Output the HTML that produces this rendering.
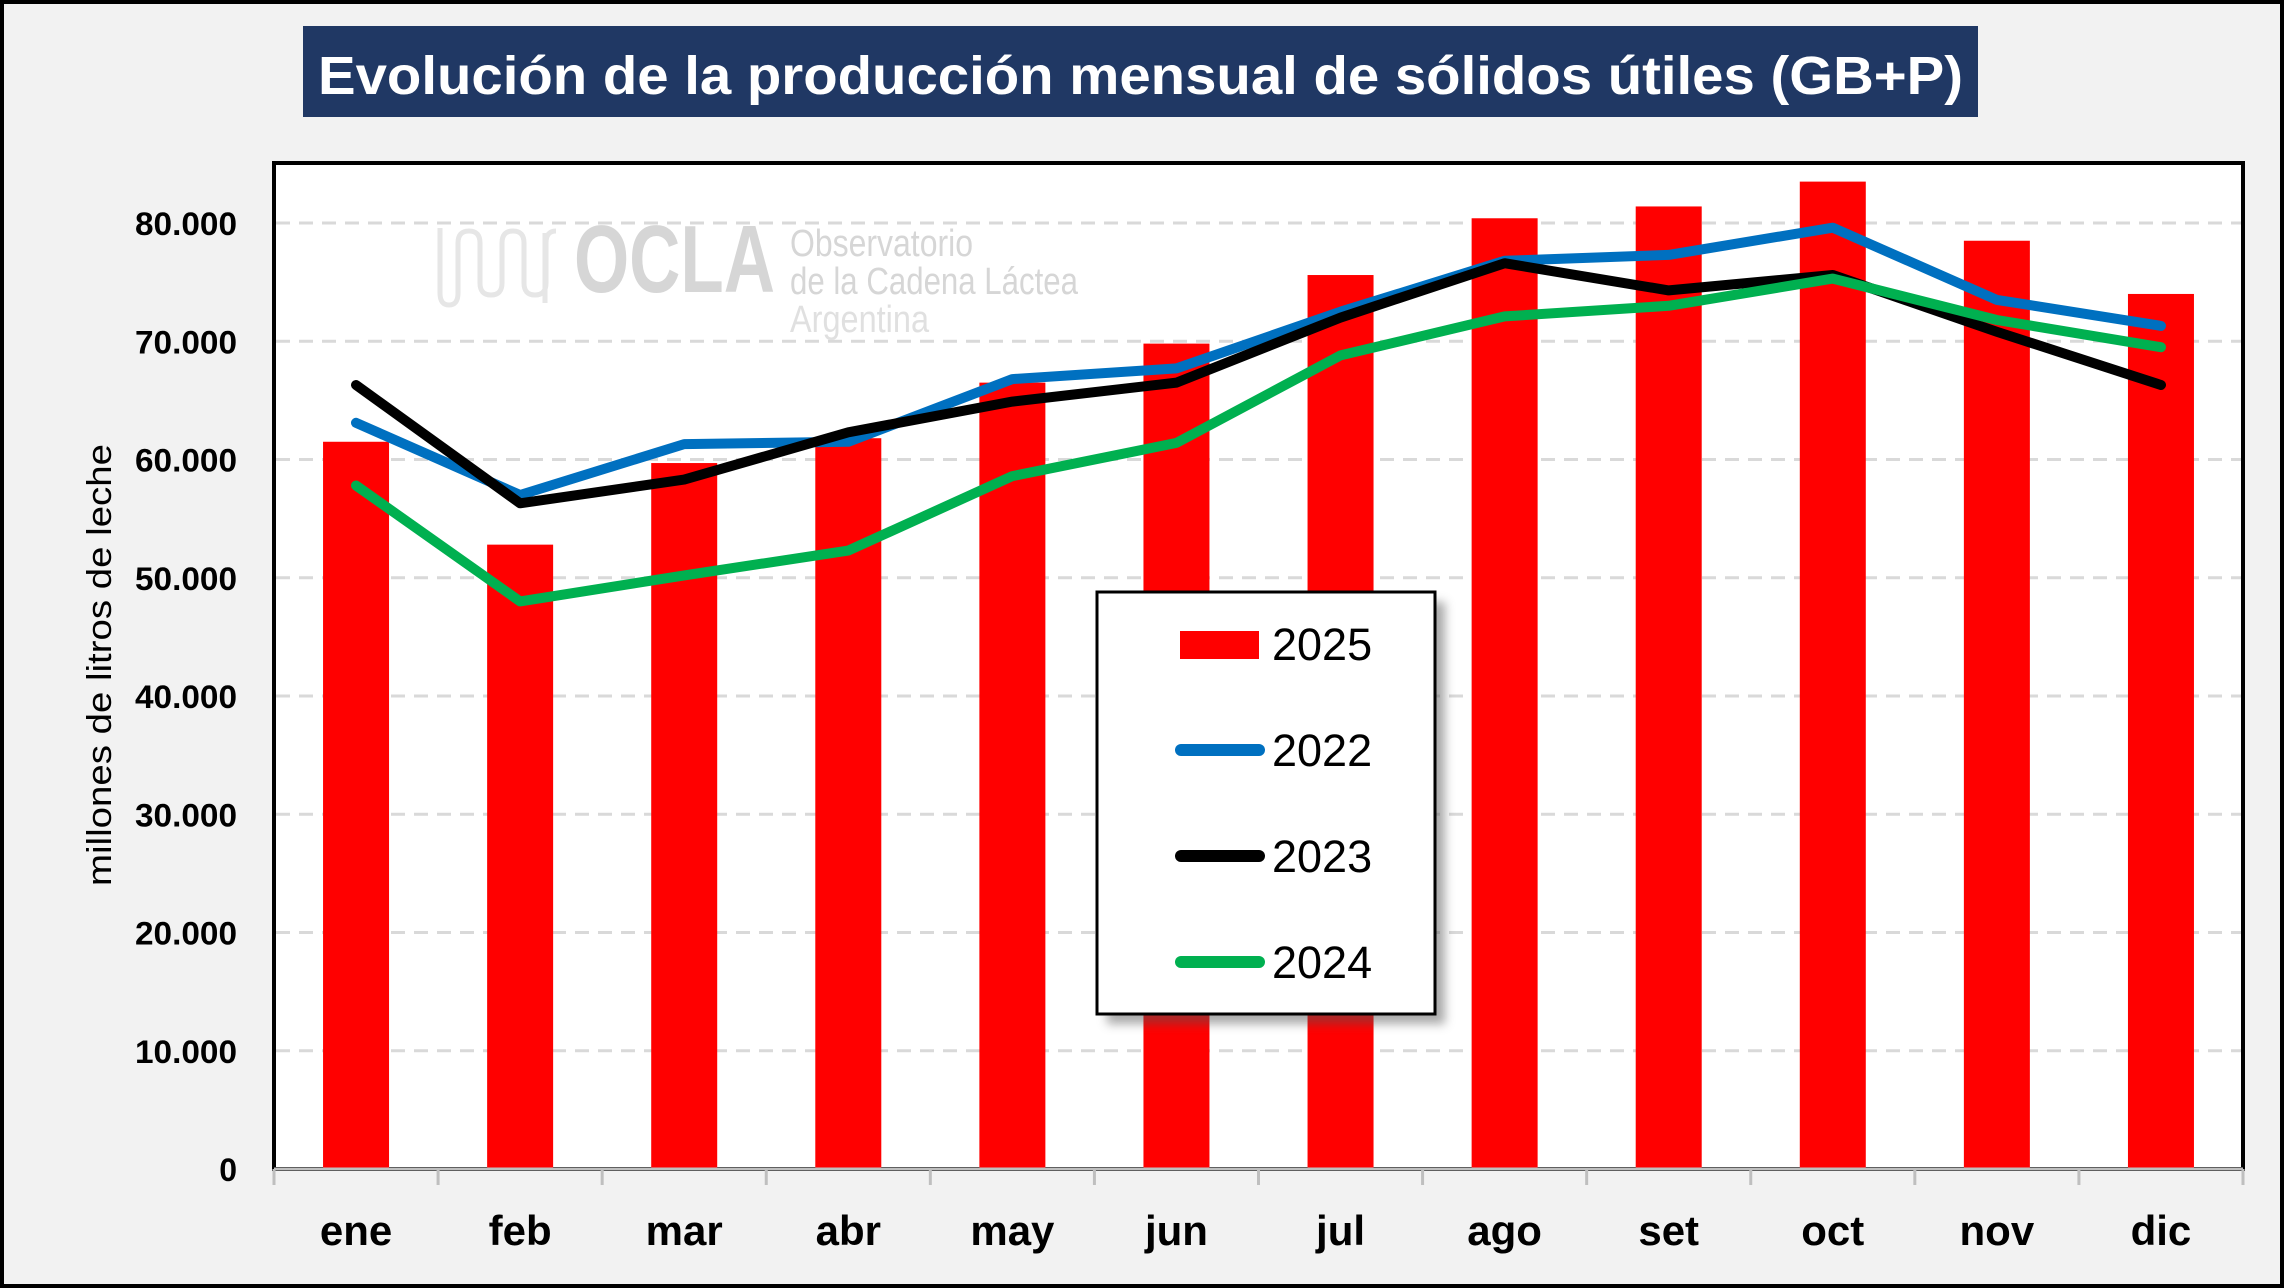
<!DOCTYPE html>
<html><head><meta charset="utf-8"><style>
html,body{margin:0;padding:0;background:#f2f2f2;}
svg{display:block;}
text{font-family:"Liberation Sans",sans-serif;}
</style></head><body>
<svg id="chart" width="2284" height="1288" viewBox="0 0 2284 1288">
<defs><filter id="blur" x="-20%" y="-20%" width="140%" height="140%"><feGaussianBlur stdDeviation="5"/></filter></defs>
<rect x="2" y="2" width="2280" height="1284" fill="#f2f2f2" stroke="#000" stroke-width="4"/>
<rect x="303" y="26" width="1675" height="91" fill="#203864"/>
<text x="318" y="94" fill="#fff" font-size="54" font-weight="bold" textLength="1645" lengthAdjust="spacingAndGlyphs">Evolución de la producción mensual de sólidos útiles (GB+P)</text>
<rect x="274" y="163" width="1969" height="1006" fill="#fff" stroke="#000" stroke-width="4"/>
<g id="grid"></g>
<g fill="#d6d6d6">
<path d="M440 228 v65 q0 12 9 12 q9 0 9 -12 v-50 q0 -12 11 -12 q11 0 11 12 v40 q0 12 11 12 q11 0 11 -12 v-40 q0 -12 11 -12 q11 0 11 12 v40 q0 12 11 12 q11 0 11 -12 v-40 q0 -12 10 -12 M545 233 v70" fill="none" stroke="#e6e6e6" stroke-width="5"/>
<text x="574" y="292" font-size="96" font-weight="bold" textLength="201" lengthAdjust="spacingAndGlyphs">OCLA</text>
<text x="790" y="256" font-size="38" textLength="183" lengthAdjust="spacingAndGlyphs">Observatorio</text>
<text x="790" y="294" font-size="38" textLength="288" lengthAdjust="spacingAndGlyphs">de la Cadena Láctea</text>
<text x="790" y="332" font-size="38" fill="#e0e0e0" textLength="139" lengthAdjust="spacingAndGlyphs">Argentina</text>
</g>
<g id="bars"></g>
<g id="lines"></g>
<g id="axes"></g>
<text transform="translate(111,665) rotate(-90)" text-anchor="middle" font-size="34" fill="#000" textLength="442" lengthAdjust="spacingAndGlyphs">millones de litros de leche</text>
<g>
<rect x="1107" y="602" width="338" height="422" fill="#555" opacity="0.5" filter="url(#blur)"/>
<rect x="1097" y="592" width="338" height="422" fill="#fff" stroke="#000" stroke-width="3"/>
<g><rect x="1180" y="631" width="79" height="28" fill="#ff0000"/><text x="1272" y="660" font-size="45">2025</text></g>
<g><line x1="1181" y1="750" x2="1259" y2="750" stroke="#0070c0" stroke-width="12" stroke-linecap="round"/><text x="1272" y="766" font-size="45">2022</text></g>
<g><line x1="1181" y1="856" x2="1259" y2="856" stroke="#000" stroke-width="12" stroke-linecap="round"/><text x="1272" y="872" font-size="45">2023</text></g>
<g><line x1="1181" y1="962" x2="1259" y2="962" stroke="#00b050" stroke-width="12" stroke-linecap="round"/><text x="1272" y="978" font-size="45">2024</text></g>
</g>
</svg>
<script>
const categories = ["ene","feb","mar","abr","may","jun","jul","ago","set","oct","nov","dic"];
const values2025 = [61500,52800,59700,61800,66500,69800,75600,80400,81400,83500,78500,74000];
const values2022 = [63100,57000,61300,61500,66800,67700,72500,76800,77300,79600,73500,71300];
const values2023 = [66300,56300,58300,62300,64900,66500,72000,76600,74300,75600,70800,66300];
const values2024 = [57800,48000,50200,52300,58600,61400,68800,72100,73000,75300,71800,69500];
const yTicks = [0,10000,20000,30000,40000,50000,60000,70000,80000];
const yTickLabels = ["0","10.000","20.000","30.000","40.000","50.000","60.000","70.000","80.000"];

const NS = "http://www.w3.org/2000/svg";
const X0 = 274, X1 = 2243, Y0 = 1169, PER = 118.25/10000;
const band = (X1 - X0) / categories.length;
function xScale(i){ return X0 + band*(i+0.5); }
function yScale(v){ return Y0 - v*PER; }
function mk(tag, attrs, parent){ const e=document.createElementNS(NS,tag); for(const k in attrs) e.setAttribute(k,attrs[k]); parent.appendChild(e); return e; }

const grid = document.getElementById('grid');
const axes = document.getElementById('axes');
yTicks.forEach((t,i)=>{
  if(t>0){
    const g = mk('line',{x1:X0+2,x2:X1-2,y1:yScale(t),y2:yScale(t),stroke:'#d9d9d9','stroke-width':3,'stroke-dasharray':'14 9'},grid);
    
    
  }
  const tl = mk('text',{x:237,y:yScale(t)+12,'text-anchor':'end','font-size':32,'font-weight':'bold',fill:'#000'},axes);
  if(t>0){ tl.setAttribute('textLength',102); tl.setAttribute('lengthAdjust','spacingAndGlyphs'); }
  tl.textContent = yTickLabels[i];
  
  
});
const ax = mk('line',{x1:X0,x2:X1,y1:Y0,y2:Y0,stroke:'#bfbfbf','stroke-width':3},axes);


for(let i=0;i<=categories.length;i++){
  const tk = mk('line',{x1:X0+band*i,x2:X0+band*i,y1:Y0,y2:Y0+16,stroke:'#bfbfbf','stroke-width':3},axes);
  
  
}
categories.forEach((c,i)=>{
  const t = mk('text',{x:xScale(i),y:1245,'text-anchor':'middle','font-size':42,'font-weight':'bold',fill:'#000'},axes);
  t.textContent = c;
  
  
});

const bars = document.getElementById('bars');
const bw = 66;
values2025.forEach((v,i)=>{
  const r = mk('rect',{x:xScale(i)-bw/2,y:yScale(v),width:bw,height:Y0-yScale(v),fill:'#ff0000'},bars);
  
  
});

const lines = document.getElementById('lines');
[[values2022,'#0070c0','2022'],[values2023,'#000000','2023'],[values2024,'#00b050','2024']].forEach(([vals,col,nm])=>{
  const d = vals.map((v,i)=>(i?'L':'M')+xScale(i).toFixed(1)+' '+yScale(v).toFixed(1)).join(' ');
  const p = mk('path',{d:d,fill:'none',stroke:col,'stroke-width':10,'stroke-linecap':'round','stroke-linejoin':'round'},lines);
  
  
});
</script>
</body></html>
